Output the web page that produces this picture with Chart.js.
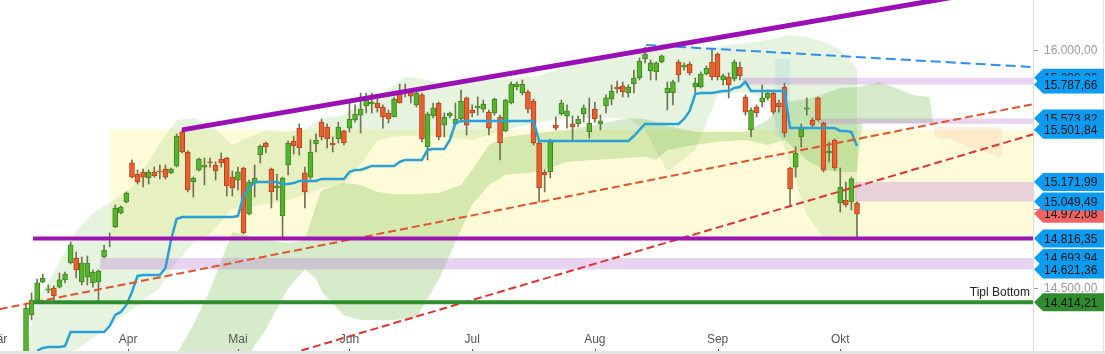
<!DOCTYPE html>
<html>
<head>
<meta charset="utf-8">
<script src="https://cdn.jsdelivr.net/npm/chart.js@4.4.1/dist/chart.umd.min.js"></script>
<style>
  html, body { margin: 0; padding: 0; background: #fff; }
  #chart { display: block; }
</style>
</head>
<body>
<canvas id="chart" width="1105" height="354"></canvas>
<script>
// Daily candles, index 0 = 8 Mar 2021, last = 6 Oct 2021
const candleOpen = [
  14040, 14334, 14428, 14542, 14491, 14504, 14510, 14555, 14662, 14693,
  14542, 14573, 14536, 14542, 14700, 14813, 14889, 14977, 15047, 15293,
  15223, 15236, 15198, 15236, 15242, 15255, 15230, 15274, 15490, 15362,
  15173, 15248, 15267, 15299, 15280, 15318, 15324, 15204, 15185, 15261,
  14971, 15166, 15343, 15419, 15255, 15135, 14958, 15280, 15431, 15513,
  15230, 15204, 15413, 15551, 15520, 15419, 15444, 15495, 15513, 15564,
  15595, 15652, 15665, 15671, 15646, 15608, 15583, 15734, 15747, 15741,
  15659, 15722, 15394, 15589, 15671, 15532, 15589, 15539, 15570, 15703,
  15627, 15640, 15633, 15614, 15608, 15583, 15495, 15671, 15772, 15734,
  15741, 15684, 15419, 15236, 15236, 15532, 15602, 15589, 15539, 15539,
  15602, 15488, 15633, 15539, 15652, 15696, 15772, 15778, 15734, 15791,
  15829, 15949, 15873, 15867, 15930, 15734, 15734, 15930, 15898, 15917,
  15772, 15772, 15854, 15930, 15980, 15816, 15835, 15823, 15898, 15709,
  15501, 15646, 15677, 15703, 15734, 15671, 15772, 15261, 15267, 15457,
  15633, 15564, 15703, 15545, 15356, 15438, 15040, 15059, 15047, 15040
];
const candleHigh = [
  14397, 14473, 14561, 14592, 14523, 14517, 14599, 14605, 14794, 14731,
  14700, 14706, 14618, 14618, 14775, 14851, 15028, 15021, 15110, 15312,
  15249, 15255, 15249, 15267, 15280, 15280, 15261, 15476, 15501.84, 15370,
  15204, 15324, 15324, 15324, 15299, 15356, 15330, 15242, 15267, 15267,
  15185, 15280, 15406, 15425, 15261, 15223, 15204, 15431, 15463, 15539,
  15267, 15438, 15476, 15570, 15539, 15457, 15551, 15501, 15671, 15659,
  15734, 15734, 15734, 15696, 15659, 15627, 15709, 15790, 15791, 15753,
  15741, 15734, 15614, 15671, 15677, 15608, 15614, 15671, 15753, 15709,
  15659, 15709, 15690, 15627, 15703, 15595, 15696, 15804, 15804, 15816,
  15753, 15696, 15425, 15249, 15444, 15583, 15690, 15659, 15589, 15589,
  15659, 15703, 15677, 15595, 15722, 15785, 15810, 15804, 15785, 15879,
  15955, 16024, 15942, 15930, 15974, 15804, 15816, 15942, 15924, 15930,
  15829, 15867, 15905, 16012, 15987, 15854, 15861, 15942, 15930, 15722,
  15640, 15659, 15785, 15753, 15741, 15690, 15797, 15267, 15394, 15539,
  15703, 15577, 15709, 15551, 15425, 15444, 15261, 15173, 15204, 15047
];
const candleLow = [
  14010, 14302, 14416, 14536, 14473, 14416, 14504, 14536, 14655, 14567,
  14523, 14523, 14510, 14416, 14693, 14763, 14885, 14971, 15040, 15198,
  15160, 15141, 15160, 15204, 15192, 15192, 15223, 15267, 15356, 15110,
  15078, 15242, 15154, 15267, 15185, 15267, 15084, 15084, 15122, 14845,
  14965, 15078, 15293, 15356, 15009, 15059, 14816.35, 15217, 15349, 15343,
  15009, 15192, 15362, 15438, 15387, 15362, 15419, 15406, 15488, 15551,
  15482, 15608, 15608, 15614, 15513, 15545, 15583, 15671, 15709, 15671,
  15646, 15425, 15312, 15577, 15438, 15457, 15577, 15532, 15551, 15469,
  15583, 15595, 15614, 15469, 15595, 15312, 15488, 15665, 15753, 15722,
  15608, 15406, 15047, 15110, 15198, 15501, 15595, 15513, 15438, 15520,
  15551, 15450, 15551, 15501, 15608, 15659, 15734, 15709, 15709, 15734,
  15816, 15924, 15816, 15816, 15924, 15627, 15659, 15804, 15879, 15848,
  15734, 15766, 15848, 15816, 15816, 15785, 15703, 15810, 15816, 15595,
  15457, 15583, 15646, 15690, 15602, 15614, 15457, 15015, 15204, 15394,
  15595, 15520, 15558, 15236, 15299, 15248, 14983, 15015, 14996, 14816.35
];
const candleClose = [
  14378, 14428, 14536, 14567, 14498, 14454, 14555, 14592, 14775, 14618,
  14662, 14662, 14605, 14611, 14744, 14819, 15009, 15015, 15103, 15204,
  15173, 15204, 15236, 15211, 15236, 15204, 15255, 15463, 15362, 15122,
  15198, 15318, 15280, 15293, 15242, 15293, 15148, 15135, 15236, 14851,
  15173, 15198, 15400, 15394, 15110, 15148, 15198, 15419, 15400, 15387,
  15110, 15362, 15438, 15457, 15444, 15406, 15520, 15419, 15570, 15602,
  15633, 15690, 15677, 15640, 15583, 15570, 15696, 15671, 15734, 15715,
  15734, 15444, 15602, 15640, 15457, 15583, 15608, 15570, 15684, 15532,
  15608, 15652, 15665, 15513, 15696, 15419, 15690, 15791, 15791, 15791,
  15633, 15419, 15135, 15217, 15425, 15513, 15671, 15621, 15520, 15570,
  15640, 15545, 15570, 15558, 15703, 15747, 15760, 15741, 15772, 15829,
  15936, 15980, 15924, 15924, 15968, 15766, 15804, 15848, 15911, 15861,
  15797, 15854, 15892, 15835, 15835, 15842, 15785, 15930, 15842, 15614,
  15627, 15608, 15703, 15734, 15614, 15646, 15482, 15129, 15356, 15507,
  15640, 15532, 15564, 15248, 15368, 15261, 15141, 15028, 15192, 14972.08
];
// stepped base line (blue)
const kijunLine = [
  null, null, 14107, 14126, 14132, 14132, 14132, 14138, 14226, 14226,
  14226, 14226, 14226, 14226, 14226, 14264, 14334, 14353, 14397, 14479,
  14580, 14586, 14586, 14586, 14586, 14630, 14807, 14939, 14952, 14952,
  14952, 14952, 14952, 14952, 14952, 14952, 14952, 14952, 14958, 15084,
  15135, 15173, 15173, 15173, 15173, 15173, 15160, 15160, 15166, 15179,
  15179, 15179, 15179, 15192, 15192, 15192, 15192, 15192, 15236, 15249,
  15249, 15261, 15274, 15274, 15274, 15274, 15274, 15299, 15312, 15312,
  15312, 15312, 15375, 15381, 15381, 15381, 15438, 15545, 15558, 15558,
  15558, 15558, 15558, 15558, 15558, 15558, 15558, 15558, 15558, 15558,
  15558, 15558, 15431, 15431, 15431, 15431, 15431, 15431, 15431, 15431,
  15431, 15431, 15431, 15431, 15431, 15431, 15431, 15431, 15431, 15463,
  15501, 15539, 15539, 15539, 15539, 15539, 15539, 15539, 15570, 15621,
  15728, 15734, 15734, 15734, 15741, 15747, 15747, 15766, 15772, 15804,
  15747, 15747, 15747, 15747, 15747, 15747, 15747, 15513, 15513, 15513,
  15513, 15513, 15513, 15513, 15513, 15513, 15495, 15495, 15488, 15400
];

// pale band around price
const paleIndex = [-0.2, 2, 5, 9, 12, 15, 19, 21, 24, 27, 30, 33, 37, 40, 43, 47, 50, 53, 57, 60,
  63, 66, 68, 70, 74, 80, 86, 92, 97, 102, 108, 111, 115, 120, 124, 129, 133, 137, 140, 143, 146, 149];
const paleUpper = [14088, 14428, 14605, 14864, 14977, 15040, 15141, 15248, 15419, 15564,
  15577, 15539, 15406, 15457, 15495, 15488, 15507, 15570, 15595, 15671,
  15715, 15785, 15835, 15829, 15804, 15816, 15823, 15842, 15905, 15942,
  15961, 16012, 16043, 16018, 16024, 16050, 16069, 16100, 16088, 16056, 16006, 15892];
const paleLower = [14088, 14088, 14088, 14113, 14189, 14271, 14365, 14428, 14504, 14668,
  14788, 14845, 15009, 15015, 15034, 15059, 15091, 15135, 15160, 15280,
  15438, 15457, 15463, 15463, 15463, 15438, 15501, 15551, 15577, 15577,
  15577, 15501, 15236, 15375, 15722, 15741, 15690, 15280, 14965, 14826, 14826, 14826];

// cloud (leading spans)
const kumoIndex = [27, 30, 33, 37, 40, 43, 47, 50, 52, 53, 57, 60, 63, 66, 70, 74, 78, 80, 83, 86,
  92, 97, 102, 108, 111, 113, 115, 120, 124, 129, 133, 136, 140, 143, 146, 149, 150, 153, 156, 159,
  162, 163, 166, 169, 172, 175];
const kumoSpanA = [14088, 14271, 14491, 14857, 14832, 14807, 14788, 14807, 15028, 15122,
  15166, 15154, 15110, 15097, 15097, 15103, 15154, 15248, 15406, 15457,
  15482, 15501, 15532, 15577, 15570, 15551, 15526, 15488, 15488, 15488,
  15564, 15677, 15696, 15728, 15766, 15772, 15778, 15804, 15766, 15722,
  15709, 15457, 15438, 15394, 15362, 15330];
const kumoSpanB = [14088, 14088, 14088, 14088, 14088, 14240, 14500, 14620, 14560, 14480,
  14330, 14302, 14302, 14302, 14315, 14555, 14870, 15028, 15154, 15217,
  15236, 15299, 15312, 15324, 15330, 15312, 15375, 15406, 15425, 15438,
  15406, 15438, 15312, 15248, 15236, 15236, 15545, 15545, 15545, 15545,
  15545, 15520, 15520, 15520, 15520, 15513];

// zones
const zoneHigh = 15501.84, zoneLow = 14816.35, zoneStart = 15.1;
const bandHigh = [15830.86, 15573.82, 15171.99, 14693.94];
const bandLow = [15787.66, 15540, 15049.49, 14621.36];
const bandStart = [128.4, 142, 148.6, 13.3];

// drawn lines
const purpleTrendX = [28, 181], purpleTrendY = [15501.84, 16428];
const redTrendAX = [-4.7, 181], redTrendAY = [14371, 15667];
const redTrendBX = [47.3, 181], redTrendBY = [14088, 15478];
const blueTrendX = [111.2, 181], blueTrendY = [16037, 15897];
const supportLevel = 14816.35, bottomLevel = 14414.21, levelStart = 1.25;

const monthLabels = ['Mär', 'Apr', 'Mai', 'Jun', 'Jul', 'Aug', 'Sep', 'Okt'];
const monthIndex = [-5.2, 18.3, 38, 58, 80, 102, 124, 146];
const yTicks = [14500, 15000, 15500, 16000];

const tagValues = [14972.08, 15830.86, 15787.66, 15573.82, 15501.84, 15171.99, 15049.49,
  14816.35, 14693.94, 14621.36, 14414.21];
const tagColors = ['#f16363', '#0a9cf2', '#0a9cf2', '#0a9cf2', '#0a9cf2', '#0a9cf2', '#0a9cf2',
  '#0a9cf2', '#0a9cf2', '#0a9cf2', '#2e8b2e'];

const FONT = '"Liberation Sans", Arial, sans-serif';

function fmtDe(v) {
  const parts = v.toFixed(2).split('.');
  return parts[0].replace(/\B(?=(\d{3})+(?!\d))/g, '.') + ',' + parts[1];
}
function pts(xs, ys) {
  return xs.map((v, i) => ({ x: v, y: ys[i] }));
}
function lineSet(xs, ys, color, width, dash, order) {
  return { type: 'line', data: pts(xs, ys), borderColor: color, borderWidth: width,
    borderDash: dash, pointRadius: 0, fill: false, order: order };
}
function boxSet(x0, x1, hi, lo, color, order) {
  return { type: 'line', data: [{ x: x0, y: hi }, { x: x1, y: hi }], borderWidth: 0,
    borderColor: 'rgba(0,0,0,0)', backgroundColor: color, pointRadius: 0,
    fill: { value: lo }, order: order };
}
function edgeSet(xs, ys, fill, color, order) {
  return { type: 'line', data: pts(xs, ys), borderWidth: 0, borderColor: 'rgba(0,0,0,0)',
    pointRadius: 0, backgroundColor: color, fill: fill, order: order };
}

const isUp = candleOpen.map((o, i) => candleClose[i] >= o);

const datasets = [
  boxSet(zoneStart, 181, zoneHigh, zoneLow, 'rgba(255, 246, 165, 0.42)', 100),
  edgeSet(paleIndex, paleUpper, '+1', 'rgba(130, 195, 90, 0.2)', 90),
  edgeSet(paleIndex, paleLower, false, 'rgba(0,0,0,0)', 90),
  edgeSet(kumoIndex, kumoSpanA, { target: '+1', above: 'rgba(115, 190, 75, 0.3)', below: 'rgba(255, 170, 135, 0.2)' }, 'rgba(0,0,0,0)', 80),
  edgeSet(kumoIndex, kumoSpanB, false, 'rgba(0,0,0,0)', 80),
  boxSet(134.3, 137, 15949, 15457, 'rgba(150, 210, 230, 0.25)', 75)
];
bandHigh.forEach((hi, i) => {
  datasets.push(boxSet(bandStart[i], 181, hi, bandLow[i], 'rgba(190, 130, 215, 0.35)', 70));
});
datasets.push({
  type: 'bar', grouped: false, order: 22, barThickness: 1,
  data: candleLow.map((l, i) => ({ x: i, y: [l, candleHigh[i]] })),
  backgroundColor: '#737352', borderWidth: 0
});
datasets.push({
  type: 'bar', grouped: false, order: 21, barThickness: 5, minBarLength: 1,
  data: candleOpen.map((o, i) => ({ x: i, y: [o, candleClose[i]] })),
  backgroundColor: isUp.map(u => (u ? '#58b230' : '#e5612d')),
  borderColor: isUp.map(u => (u ? '#3a8a1c' : '#b9401c')),
  borderWidth: 1, borderSkipped: false
});
datasets.push({
  type: 'line', order: 15, pointRadius: 0, fill: false,
  data: kijunLine.map((v, i) => ({ x: i, y: v })).filter(p => p.y !== null),
  borderColor: '#2ba0d5', borderWidth: 2.5
});
datasets.push(lineSet(redTrendAX, redTrendAY, '#e2532e', 2, [8, 4], 12));
datasets.push(lineSet(redTrendBX, redTrendBY, '#e03434', 2, [8, 4], 12));
datasets.push(lineSet(blueTrendX, blueTrendY, '#2f8ff0', 2, [10, 5], 12));
datasets.push(lineSet(purpleTrendX, purpleTrendY, '#9a10b4', 5, [], 11));
datasets.push(lineSet([levelStart, 181], [supportLevel, supportLevel], '#9b16b0', 4, [], 10));
datasets.push(lineSet([levelStart, 181], [bottomLevel, bottomLevel], '#2f8f2f', 4, [], 10));

const overlay = {
  id: 'overlay',
  afterDraw(chart) {
    const { ctx, chartArea, scales } = chart;
    const x = scales.x, y = scales.y;
    ctx.save();
    ctx.font = '12px ' + FONT;
    ctx.textBaseline = 'middle';

    // month labels inside the plot
    ctx.fillStyle = '#555';
    ctx.textAlign = 'center';
    monthLabels.forEach((m, i) => {
      const px = x.getPixelForValue(monthIndex[i]);
      ctx.fillText(m, px, 340);
      ctx.fillRect(Math.round(px), 349, 1, 5);
    });

    // bottom strip and right frame
    ctx.fillStyle = '#e4e4e4';
    ctx.fillRect(0, 351, chart.width, 3);
    ctx.fillStyle = '#e2e2e2';
    ctx.fillRect(1103, 0, 1, chart.height);

    ctx.fillStyle = '#222';
    ctx.textAlign = 'right';
    ctx.fillText('Tipl Bottom', 1030, y.getPixelForValue(bottomLevel) - 10);

    // price tags
    const left = chartArea.right;
    const h = 18;
    ctx.textAlign = 'left';
    tagValues.forEach((v, i) => {
      const py = y.getPixelForValue(v);
      ctx.beginPath();
      ctx.moveTo(left + 1, py);
      ctx.lineTo(left + 10, py - h / 2);
      ctx.lineTo(1104, py - h / 2);
      ctx.lineTo(1104, py + h / 2);
      ctx.lineTo(left + 10, py + h / 2);
      ctx.closePath();
      ctx.fillStyle = tagColors[i];
      ctx.fill();
      ctx.fillStyle = '#111';
      ctx.fillText(fmtDe(v), left + 11, py + 1);
    });
    ctx.restore();
  }
};

new Chart(document.getElementById('chart'), {
  type: 'line',
  data: { datasets: datasets },
  options: {
    responsive: false,
    animation: false,
    devicePixelRatio: 1,
    layout: { padding: 0 },
    plugins: { legend: { display: false }, tooltip: { enabled: false } },
    scales: {
      x: { type: 'linear', min: -4.662, max: 180.56, offset: false, grid: { offset: false }, display: false },
      y: {
        type: 'linear',
        position: 'right',
        min: 14087.6,
        max: 16321,
        afterBuildTicks(scale) {
          scale.ticks = yTicks.map(v => ({ value: v }));
        },
        afterFit(scale) {
          scale.width = 72;
          scale.paddingTop = 0;
          scale.paddingBottom = 0;
        },
        ticks: {
          color: '#9a9a9a',
          padding: 6,
          font: { size: 12, family: FONT },
          callback: v => fmtDe(v)
        },
        grid: { drawOnChartArea: false, tickLength: 5, color: '#999' },
        border: { color: '#dcdcdc' }
      }
    }
  },
  plugins: [overlay]
});
</script>
</body>
</html>
